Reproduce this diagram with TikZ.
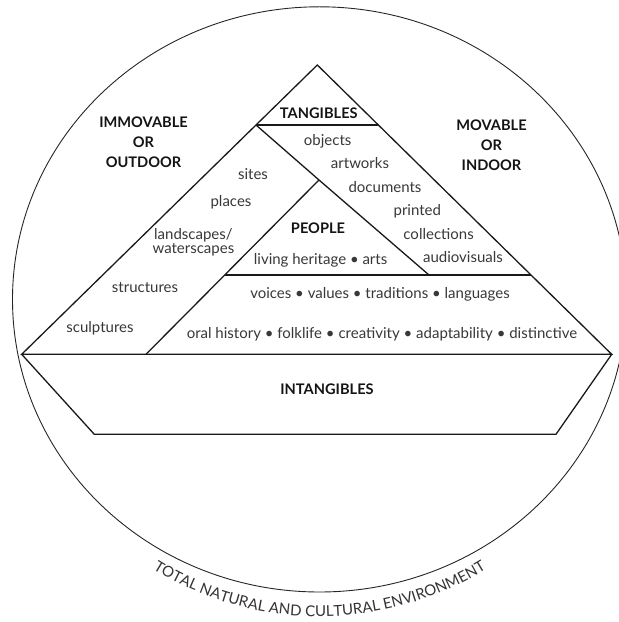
\documentclass[tikz,border=0pt]{standalone}
\usepackage{fontspec}
\setmainfont{Lato}
\usetikzlibrary{decorations.text}
\begin{document}
\begin{tikzpicture}[x=1pt,y=1pt,
  edge/.style={line width=1.3pt, line join=miter, draw=black!90},
  lbl/.style={font=\fontsize{15}{14}\selectfont, text=black!78, anchor=base, inner sep=0pt},
  head/.style={font=\fontsize{14.6}{20.2}\selectfont\bfseries, text=black!92, inner sep=0pt, align=center},
  multi/.style={font=\fontsize{15}{14}\selectfont, text=black!78, inner sep=0pt, align=center}
]
\useasboundingbox (0,0) rectangle (619,622);
% environment
\draw[line width=0.9pt, black!85] (319.5,322.6) ellipse [x radius=307, y radius=292.6];
% key points
\coordinate (A) at (317.3,557);
\coordinate (TL) at (256,497);
\coordinate (TR) at (378,497);
\coordinate (BL) at (21.7,267.7);
\coordinate (BR) at (611.7,267.7);
\coordinate (P) at (319,442);
\coordinate (D) at (429,347);
\coordinate (HL) at (224.5,347);
\coordinate (HR) at (531,347);
\coordinate (PB) at (146,267.7);
\coordinate (QL) at (94.3,187.7);
\coordinate (QR) at (556,187.7);
% pyramid
\draw[edge] (BL) -- (A) -- (BR) -- cycle;
\draw[edge] (TL) -- (TR);
\draw[edge] (TL) -- (P) -- (D);
\draw[edge] (P) -- (PB);
\draw[edge] (HL) -- (HR);
\draw[edge] (BL) -- (QL) -- (QR) -- (BR);
% headings
\node[head, anchor=base] (tang) at (318.8,503) {TANGIBLES};
\node[head] (immov) at (143.5,479.9) {IMMOVABLE\\OR\\OUTDOOR};
\node[head] (mov) at (491.5,476.7) {MOVABLE\\OR\\INDOOR};
\node[head, anchor=base] (people) at (318,388.5) {PEOPLE};
\node[head, anchor=base] (intang) at (327,227.5) {INTANGIBLES};
% movable items
\node[lbl] (objects) at (327.7,476.2) {objects};
\node[lbl] (artworks) at (360,453.3) {artworks};
\node[lbl] (documents) at (385,429.2) {documents};
\node[lbl] (printed) at (417.3,406.3) {printed};
\node[lbl] (collections) at (438.6,382.5) {collections};
\node[lbl] (audio) at (463,359.3) {audiovisuals};
% immovable items
\node[lbl] (sites) at (253,442.2) {sites};
\node[lbl] (places) at (231,415.4) {places};
\node[multi] (land) at (193.4,379.3) {landscapes/\\waterscapes};
\node[lbl] (structures) at (145,329.3) {structures};
\node[lbl] (sculptures) at (100,289) {sculptures};
% people items
\node[lbl] (living) at (320.6,357.7) {living heritage \textbullet{} arts};
\node[lbl] (voices) at (380,323) {voices \textbullet{} values \textbullet{} traditions \textbullet{} languages};
\node[lbl] (oral) at (382,283.9) {oral history \textbullet{} folklife \textbullet{} creativity \textbullet{} adaptability \textbullet{} distinctive};
% arc text
\path[decorate, decoration={text along path, text align=center,
  text={|\fontsize{15}{15}\selectfont\color{black!80}|TOTAL NATURAL AND CULTURAL ENVIRONMENT}}]
  (319.5,322.6) ++(232:317) arc[start angle=232, end angle=308, radius=317];
\end{tikzpicture}
\end{document}
